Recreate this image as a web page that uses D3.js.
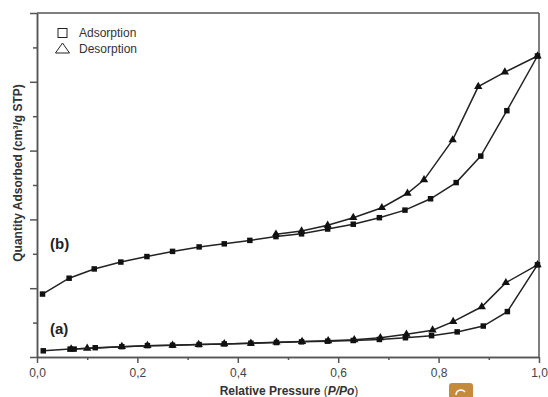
<!DOCTYPE html>
<html>
<head>
<meta charset="utf-8">
<script src="https://cdn.jsdelivr.net/npm/d3@7"></script>
<style>
  body { margin: 0; background: #fff; }
  text { font-family: "Liberation Sans", Arial, sans-serif; }
</style>
</head>
<body>
<svg id="chart" width="548" height="397"></svg>
<script>
// isotherm data, [P/Po, quantity] (y in tick units)
var adsorptionA = [[0.0125, 0.18], [0.066, 0.23], [0.074, 0.23], [0.116, 0.27], [0.169, 0.30], [0.220, 0.33],
    [0.270, 0.34], [0.323, 0.36], [0.373, 0.38], [0.426, 0.40], [0.477, 0.42], [0.527, 0.44], [0.579, 0.46],
    [0.630, 0.48], [0.682, 0.51], [0.734, 0.56], [0.786, 0.62], [0.837, 0.73], [0.889, 0.90], [0.937, 1.32], [0.997, 2.68]];
var desorptionA = [[0.997, 2.68], [0.934, 2.16], [0.886, 1.46], [0.829, 1.03], [0.788, 0.78], [0.736, 0.66],
    [0.684, 0.56], [0.632, 0.50], [0.580, 0.47], [0.528, 0.45], [0.477, 0.43], [0.426, 0.40], [0.373, 0.38],
    [0.322, 0.36], [0.270, 0.34], [0.220, 0.33], [0.169, 0.30], [0.100, 0.25], [0.068, 0.23]];
var adsorptionB = [[0.011, 1.83], [0.064, 2.29], [0.114, 2.56], [0.167, 2.76], [0.219, 2.92], [0.270, 3.07],
    [0.323, 3.20], [0.373, 3.29], [0.424, 3.39], [0.476, 3.50], [0.527, 3.58], [0.579, 3.72], [0.630, 3.86],
    [0.682, 4.05], [0.733, 4.27], [0.784, 4.60], [0.835, 5.07], [0.884, 5.84], [0.936, 7.16], [0.997, 8.75]];
var desorptionB = [[0.997, 8.75], [0.932, 8.28], [0.879, 7.86], [0.828, 6.31], [0.771, 5.15], [0.738, 4.76],
    [0.687, 4.34], [0.630, 4.05], [0.579, 3.83], [0.527, 3.66], [0.476, 3.57]];
var xMajorTicks = [0, 0.2, 0.4, 0.6, 0.8, 1.0];
var xMinorTicks = [0.1, 0.3, 0.5, 0.7, 0.9];
var yMajorTicks = [0, 2, 4, 6, 8, 10];
var yMinorTicks = [1, 3, 5, 7, 9];
var legendLabels = ["Adsorption", "Desorption"];

var svg = d3.select("#chart");
var plotL = 37, plotR = 539, plotT = 13, plotB = 357;
var ink = "#222", frame = "#555";

var x = d3.scaleLinear().domain([0, 1]).range([plotL, plotR]);
var y = d3.scaleLinear().domain([0, 10]).range([plotB, plotT]);

// axes
var fmt = function(d) { return d3.format(".1f")(d).replace(".", ","); };
var xMajor = svg.append("g").attr("transform", "translate(0," + plotB + ")")
    .call(d3.axisBottom(x).tickValues(xMajorTicks).tickSize(6).tickFormat(fmt).tickSizeOuter(0));
var xMinor = svg.append("g").attr("transform", "translate(0," + plotB + ")")
    .call(d3.axisBottom(x).tickValues(xMinorTicks).tickSize(3).tickFormat("").tickSizeOuter(0));
var yMajor = svg.append("g").attr("transform", "translate(" + plotL + ",0)")
    .call(d3.axisLeft(y).tickValues(yMajorTicks).tickSize(7).tickFormat("").tickSizeOuter(0));
var yMinor = svg.append("g").attr("transform", "translate(" + plotL + ",0)")
    .call(d3.axisLeft(y).tickValues(yMinorTicks).tickSize(4).tickFormat("").tickSizeOuter(0));
[xMajor, xMinor, yMajor, yMinor].forEach(function(g) {
    g.selectAll("path, line").attr("stroke", frame).attr("stroke-width", 1.5);
});
xMajor.selectAll("text").attr("font-size", 12).attr("fill", "#444").attr("dy", "0.95em");

// rest of the frame
svg.append("line").attr("x1", plotL).attr("x2", plotR).attr("y1", plotT).attr("y2", plotT)
    .attr("stroke", frame).attr("stroke-width", 1.5);
svg.append("line").attr("x1", plotR).attr("x2", plotR).attr("y1", plotT).attr("y2", plotB)
    .attr("stroke", frame).attr("stroke-width", 1.5);

// series
var line = d3.line().x(function(d) { return x(d[0]); }).y(function(d) { return y(d[1]); });
var square = d3.symbol().type(d3.symbolSquare).size(30);
var triangle = d3.symbol().type(d3.symbolTriangle).size(30);

function drawSeries(data, sym) {
    svg.append("path").datum(data).attr("d", line)
        .attr("fill", "none").attr("stroke", ink).attr("stroke-width", 1.5);
    svg.append("g").selectAll("path").data(data).join("path")
        .attr("d", sym)
        .attr("transform", function(d) { return "translate(" + x(d[0]) + "," + y(d[1]) + ")"; })
        .attr("fill", "#111");
}
drawSeries(desorptionA, triangle);
drawSeries(desorptionB, triangle);
drawSeries(adsorptionA, square);
drawSeries(adsorptionB, square);

// curve labels
svg.append("text").attr("x", 50).attr("y", 249).attr("font-size", 15).attr("font-weight", "bold")
    .attr("fill", ink).text("(b)");
svg.append("text").attr("x", 50).attr("y", 334).attr("font-size", 15).attr("font-weight", "bold")
    .attr("fill", ink).text("(a)");

// legend
svg.append("rect").attr("x", 58).attr("y", 28.5).attr("width", 9).attr("height", 9)
    .attr("fill", "none").attr("stroke", ink).attr("stroke-width", 1);
svg.append("path").attr("d", "M55.5,53 L62.5,43 L69.5,53 Z")
    .attr("fill", "none").attr("stroke", ink).attr("stroke-width", 1);
legendLabels.forEach(function(t, i) {
    svg.append("text").attr("x", 79).attr("y", 37 + i * 16).attr("font-size", 12)
        .attr("fill", "#333").text(t);
});

// axis titles
var xt = svg.append("text").attr("x", 289).attr("y", 395).attr("text-anchor", "middle")
    .attr("font-size", 12).attr("font-weight", "bold").attr("fill", "#333");
xt.append("tspan").text("Relative Pressure ");
xt.append("tspan").attr("font-weight", "normal").text("(");
xt.append("tspan").attr("font-style", "italic").text("P/Po");
xt.append("tspan").attr("font-weight", "normal").text(")");

svg.append("text").attr("transform", "translate(22,173) rotate(-90)").attr("text-anchor", "middle")
    .attr("font-size", 12).attr("font-weight", "bold").attr("fill", "#333")
    .text("Quantity Adsorbed (cm³/g STP)");

// small badge at the bottom edge of the source image
svg.append("rect").attr("x", 449).attr("y", 383).attr("width", 24).attr("height", 20).attr("rx", 3)
    .attr("fill", "#c48b3c");
svg.append("path").attr("d", "M465,392 A5,5 0 0 0 456,395")
    .attr("fill", "none").attr("stroke", "#fff").attr("stroke-width", 1.5);
</script>
</body>
</html>
